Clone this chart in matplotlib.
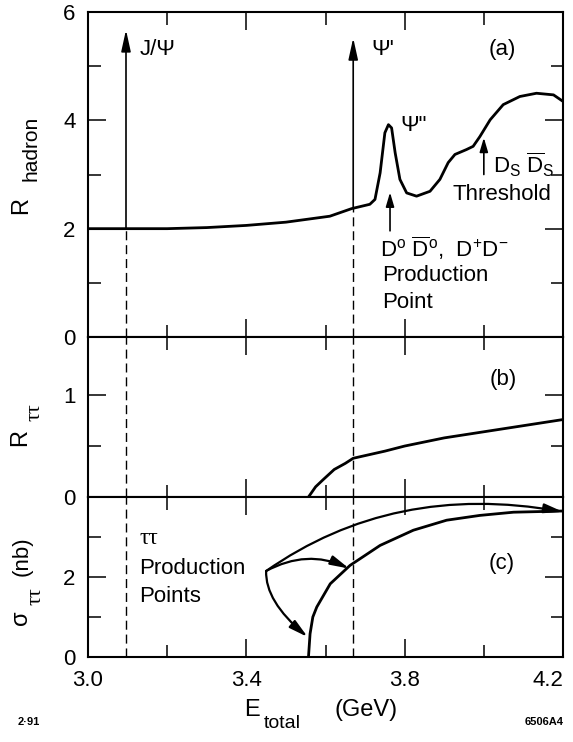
import matplotlib.pyplot as plt
import numpy as np

plt.rcParams['font.family'] = ['Liberation Sans', 'DejaVu Sans']
plt.rcParams['mathtext.fontset'] = 'custom'
plt.rcParams['mathtext.rm'] = 'Liberation Sans'
plt.rcParams['mathtext.it'] = 'Liberation Sans:italic'
plt.rcParams['mathtext.bf'] = 'Liberation Sans:bold'

# (a) R for hadrons
e_had = [3.00, 3.10, 3.20, 3.30, 3.40, 3.50, 3.611, 3.666, 3.712, 3.725,
         3.738, 3.750, 3.759, 3.767, 3.776, 3.788, 3.805, 3.830, 3.864,
         3.889, 3.910, 3.927, 3.956, 3.973, 3.990, 4.016, 4.049, 4.091,
         4.133, 4.176, 4.200]
r_had = [2.00, 2.00, 2.00, 2.02, 2.06, 2.12, 2.23, 2.37, 2.45, 2.54,
         3.03, 3.77, 3.92, 3.86, 3.40, 2.91, 2.66, 2.60, 2.69,
         2.91, 3.22, 3.37, 3.46, 3.52, 3.70, 4.01, 4.29, 4.44,
         4.50, 4.47, 4.35]

# (b) R for tau pairs
e_rtt = [3.557, 3.575, 3.594, 3.622, 3.650, 3.670, 3.750, 3.800, 3.900,
         4.000, 4.100, 4.200]
r_tt = [0.0, 0.10, 0.17, 0.27, 0.33, 0.38, 0.45, 0.50, 0.58,
        0.64, 0.70, 0.76]

# (c) tau pair cross section (nb)
e_sig = [3.557, 3.561, 3.568, 3.578, 3.612, 3.662, 3.738, 3.822, 3.906,
         3.990, 4.075, 4.200]
sig_tt = [0.0, 0.58, 1.0, 1.25, 1.83, 2.29, 2.79, 3.17, 3.42,
          3.54, 3.62, 3.65]

e_jpsi = 3.096
e_psi2s = 3.67
e_dd = 3.763
e_dsds = 4.0

x_major = [3.0, 3.4, 3.8, 4.2]
x_labels = ['3.0', '3.4', '3.8', '4.2']
x_minor = [3.2, 3.6, 4.0]

W, H = 573, 742
fig = plt.figure(figsize=(W / 100, H / 100), dpi=100)


def box(top, bottom):
    return [88 / W, 1 - bottom / H, (563 - 88) / W, (bottom - top) / H]


def fpos(x, y):
    return x / W, 1 - y / H


ax_a = fig.add_axes(box(12, 337))
ax_b = fig.add_axes(box(337, 497))
ax_c = fig.add_axes(box(497, 657))

for ax in (ax_a, ax_b, ax_c):
    ax.set_xlim(3.0, 4.2)
    ax.set_xticks(x_major)
    ax.set_xticks(x_minor, minor=True)
    ax.tick_params(which='both', direction='in', top=True, right=True,
                   width=1.1, labelsize=16, pad=9)
    ax.tick_params(which='major', length=13)
    ax.tick_params(which='minor', length=9)
    for s in ax.spines.values():
        s.set_linewidth(1.5)
ax_a.tick_params(labelbottom=False)
ax_b.tick_params(labelbottom=False)
ax_c.set_xticklabels(x_labels)
ax_c.get_xticklabels()[-1].set_horizontalalignment('right')

ax_a.set_ylim(0, 6)
ax_a.set_yticks([0, 2, 4, 6])
ax_a.set_yticks([1, 3, 5], minor=True)
ax_b.set_ylim(0, 1.57)
ax_b.set_yticks([0, 1])
ax_b.set_yticks([0.5], minor=True)
ax_c.set_ylim(0, 4)
ax_c.set_yticks([0, 2])
ax_c.set_yticks([1, 3], minor=True)

dash = (0, (6.5, 3.5))
big_head = dict(arrowstyle='-|>,head_length=1.0,head_width=0.22',
                mutation_scale=13, lw=1.2, color='black', shrinkA=0, shrinkB=0)
small_head = dict(arrowstyle='-|>,head_length=0.85,head_width=0.25',
                  mutation_scale=10, lw=1.2, color='black', shrinkA=0, shrinkB=0)

# (a)
ax_a.plot(e_had, r_had, color='black', lw=2)
for e, tip in [(e_jpsi, 5.67), (e_psi2s, 5.52)]:
    base = np.interp(e, e_had, r_had)
    ax_a.plot([e, e], [0, base], color='black', lw=1.0, ls=dash)
    ax_a.annotate('', xy=(e, tip), xytext=(e, base), arrowprops=big_head)
ax_a.text(3.131, 5.3, 'J/Ψ', fontsize=16, ha='left', va='center')
ax_a.text(3.717, 5.3, "Ψ'", fontsize=16, ha='left', va='center')
ax_a.text(4.046, 5.3, '(a)', fontsize=16, ha='center', va='center')
ax_a.text(3.788, 3.9, 'Ψ"', fontsize=16, ha='left', va='center')

ax_a.annotate('', xy=(e_dd, 2.67), xytext=(e_dd, 1.96), arrowprops=small_head)
ax_a.text(3.738, 1.64,
          r'D$^{\rm o}$ $\overline{\rm D}^{\rm o}$,  D$^{+}$D$^{-}$',
          fontsize=16, ha='left', va='center')
ax_a.text(3.742, 1.13, 'Production', fontsize=16, ha='left', va='center')
ax_a.text(3.742, 0.64, 'Point', fontsize=16, ha='left', va='center')

ax_a.annotate('', xy=(e_dsds, 3.68), xytext=(e_dsds, 3.0), arrowprops=small_head)
ax_a.text(4.024, 3.18, r'D$_{\rm S}$ $\overline{\rm D}_{\rm S}$',
          fontsize=16, ha='left', va='center')
ax_a.text(3.922, 2.63, 'Threshold', fontsize=16, ha='left', va='center')

# (b)
ax_b.plot(e_rtt, r_tt, color='black', lw=2)
ax_b.axvline(e_jpsi, color='black', lw=1.0, ls=dash)
ax_b.axvline(e_psi2s, color='black', lw=1.0, ls=dash)
ax_b.text(4.05, 1.15, '(b)', fontsize=16, ha='center', va='center')

# (c)
ax_c.plot(e_sig, sig_tt, color='black', lw=2)
ax_c.axvline(e_jpsi, color='black', lw=1.0, ls=dash)
ax_c.axvline(e_psi2s, color='black', lw=1.0, ls=dash)
ax_c.text(4.045, 2.34, '(c)', fontsize=16, ha='center', va='center')
ax_c.text(3.13, 2.96, 'ττ', fontsize=17, family='Liberation Serif',
          ha='left', va='center')
ax_c.text(3.13, 2.2, 'Production', fontsize=16, ha='left', va='center')
ax_c.text(3.13, 1.5, 'Points', fontsize=16, ha='left', va='center')

src = (3.45, 2.15)
c_head = dict(arrowstyle='-|>,head_length=0.8,head_width=0.2',
              mutation_scale=14, lw=1.6, color='black', shrinkA=0, shrinkB=0)
ax_c.annotate('', xy=(4.2, 3.63), xytext=src,
              arrowprops=dict(c_head, connectionstyle='angle3,angleA=35,angleB=-10'))
ax_c.annotate('', xy=(3.66, 2.21), xytext=src,
              arrowprops=dict(c_head, connectionstyle='arc3,rad=-0.25'))
ax_c.annotate('', xy=(3.555, 0.5), xytext=src,
              arrowprops=dict(c_head, connectionstyle='angle3,angleA=-92,angleB=-40'))

# axis titles built from pieces so the subscripts sit like the original
fig.text(*fpos(21.5, 206), 'R', fontsize=17, rotation=90, ha='center', va='center')
fig.text(*fpos(31, 148), 'hadron', fontsize=15, rotation=90, ha='center', va='center')
fig.text(*fpos(20, 437), 'R', fontsize=17, rotation=90, ha='center', va='center')
fig.text(*fpos(34.5, 412), 'ττ', fontsize=16, rotation=90, ha='center', va='center',
         family='Liberation Serif')
fig.text(*fpos(21.5, 618), 'σ', fontsize=17, rotation=90, ha='center', va='center')
fig.text(*fpos(36, 596), 'ττ', fontsize=16, rotation=90, ha='center', va='center',
         family='Liberation Serif')
fig.text(*fpos(22.5, 556), '(nb)', fontsize=16, rotation=90, ha='center', va='center')

fig.text(*fpos(252, 710), 'E', fontsize=17, ha='center', va='center')
fig.text(*fpos(282, 724), 'total', fontsize=14, ha='center', va='center')
fig.text(*fpos(366, 710), '(GeV)', fontsize=17, ha='center', va='center')

fig.text(*fpos(29, 722), '2·91', fontsize=8, fontweight='bold', ha='center', va='center')
fig.text(*fpos(544, 722), '6506A4', fontsize=8, fontweight='bold', ha='center', va='center')

fig.savefig('out.png', dpi=100)
